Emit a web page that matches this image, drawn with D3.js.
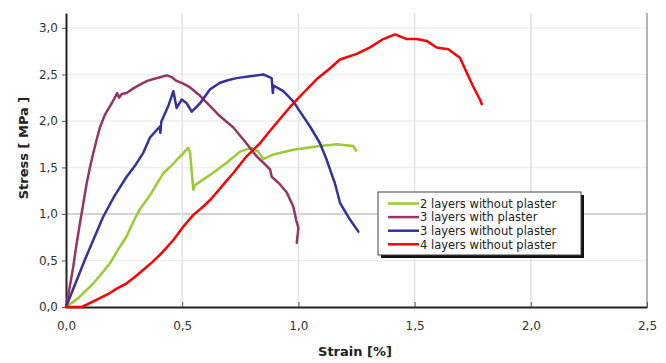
<!DOCTYPE html>
<html>
<head>
<meta charset="utf-8">
<script src="https://cdn.jsdelivr.net/npm/d3@7"></script>
<style>
  body { margin: 0; background: #fff; }
  text { font-family: "DejaVu Sans", sans-serif; }
</style>
</head>
<body>
<div id="chart"></div>
<script>
// Series: [strain %, stress MPa]
var twoLayers = [[0,0],[0.05,0.09],[0.118,0.255],[0.15,0.35],[0.189,0.47],[0.22,0.6],[0.261,0.76],
  [0.29,0.92],[0.318,1.05],[0.361,1.2],[0.39,1.32],[0.419,1.44],[0.45,1.51],[0.476,1.58],[0.5,1.64],
  [0.526,1.71],[0.534,1.66],[0.541,1.45],[0.548,1.26],[0.555,1.31],[0.62,1.42],[0.691,1.55],
  [0.749,1.67],[0.799,1.71],[0.827,1.67],[0.849,1.59],[0.892,1.64],[0.978,1.69],[1.093,1.73],
  [1.165,1.75],[1.236,1.73],[1.248,1.68]];
var threeWith = [[0,0],[0.015,0.2],[0.031,0.43],[0.045,0.67],[0.06,0.9],[0.075,1.12],[0.089,1.33],
  [0.103,1.5],[0.118,1.66],[0.132,1.8],[0.146,1.93],[0.168,2.07],[0.185,2.14],[0.197,2.19],
  [0.21,2.25],[0.22,2.3],[0.228,2.25],[0.24,2.29],[0.261,2.3],[0.29,2.35],[0.318,2.39],[0.35,2.43],
  [0.376,2.45],[0.405,2.47],[0.433,2.49],[0.455,2.47],[0.476,2.43],[0.505,2.4],[0.534,2.36],
  [0.577,2.27],[0.62,2.16],[0.663,2.05],[0.72,1.93],[0.763,1.8],[0.82,1.62],[0.85,1.55],
  [0.878,1.48],[0.885,1.4],[0.92,1.32],[0.95,1.23],[0.978,1.08],[0.99,0.94],[1.0,0.85],[0.993,0.69]];
var threeWithout = [[0,0],[0.08,0.5],[0.16,0.97],[0.21,1.2],[0.261,1.4],[0.3,1.53],[0.333,1.66],
  [0.361,1.82],[0.404,1.94],[0.406,1.87],[0.41,1.99],[0.44,2.16],[0.462,2.32],[0.476,2.14],
  [0.498,2.23],[0.519,2.19],[0.541,2.1],[0.577,2.19],[0.62,2.34],[0.663,2.41],[0.7,2.44],
  [0.734,2.46],[0.792,2.48],[0.849,2.5],[0.885,2.46],[0.89,2.3],[0.893,2.38],[0.935,2.32],
  [0.978,2.21],[1.007,2.1],[1.05,1.94],[1.093,1.76],[1.122,1.58],[1.14,1.45],[1.157,1.33],
  [1.179,1.12],[1.2,1.03],[1.222,0.94],[1.258,0.81]];
var fourLayers = [[0,0],[0.068,0],[0.118,0.06],[0.15,0.1],[0.189,0.15],[0.22,0.2],[0.261,0.255],
  [0.3,0.33],[0.333,0.4],[0.37,0.48],[0.404,0.56],[0.43,0.63],[0.462,0.72],[0.505,0.865],
  [0.548,0.99],[0.591,1.08],[0.62,1.15],[0.648,1.23],[0.685,1.34],[0.72,1.44],[0.777,1.62],
  [0.835,1.76],[0.87,1.87],[0.907,1.98],[0.964,2.15],[1.021,2.3],[1.079,2.45],[1.129,2.55],
  [1.179,2.66],[1.251,2.72],[1.308,2.79],[1.365,2.88],[1.416,2.93],[1.466,2.88],[1.509,2.88],
  [1.552,2.86],[1.595,2.79],[1.645,2.77],[1.695,2.68],[1.724,2.52],[1.752,2.37],[1.781,2.23],
  [1.789,2.18]];

var seriesNames = ["2 layers without plaster", "3 layers with plaster", "3 layers without plaster", "4 layers without plaster"];
var seriesColors = ["#99cc33", "#993366", "#333399", "#ff0000"];
var xTicks = [0, 0.5, 1.0, 1.5, 2.0, 2.5];
var yTicks = [0, 0.5, 1.0, 1.5, 2.0, 2.5, 3.0];

var svgWidth = 666;
var svgHeight = 363;
var margin = { top: 13, right: 19, bottom: 56, left: 66 };
var width = svgWidth - margin.left - margin.right;
var height = svgHeight - margin.top - margin.bottom;

var svg = d3.select("#chart").append("svg")
  .attr("width", svgWidth)
  .attr("height", svgHeight);

var chartGroup = svg.append("g")
  .attr("transform", `translate(${margin.left}, ${margin.top})`);

var xScale = d3.scaleLinear().domain([0, 2.5]).range([0, width]);
var yScale = d3.scaleLinear().domain([0, 3.16]).range([height, 0]);

var fmt = d => d.toFixed(1).replace(".", ",");

// gridlines
chartGroup.selectAll(".hgrid").data(yTicks.slice(1)).enter().append("line")
  .attr("x1", 0).attr("x2", width)
  .attr("y1", d => yScale(d)).attr("y2", d => yScale(d))
  .attr("stroke", d => d === 1.0 ? "#c4c4c4" : "#eeeeee")
  .attr("stroke-width", 1.5);
chartGroup.selectAll(".vgrid").data(xTicks.slice(1, -1)).enter().append("line")
  .attr("y1", 0).attr("y2", height)
  .attr("x1", d => xScale(d)).attr("x2", d => xScale(d))
  .attr("stroke", "#e2e2e2")
  .attr("stroke-width", 1.5);
// right border of plot
chartGroup.append("line")
  .attr("x1", width).attr("x2", width).attr("y1", 0).attr("y2", height)
  .attr("stroke", "#9a9a9a").attr("stroke-width", 1.5);

// axes
var bottomAxis = d3.axisBottom(xScale).tickValues(xTicks).tickFormat(fmt).tickSizeInner(-5).tickSizeOuter(0).tickPadding(14);
var leftAxis = d3.axisLeft(yScale).tickValues(yTicks).tickFormat(fmt).tickSizeInner(4).tickSizeOuter(0).tickPadding(4);

var xg = chartGroup.append("g").attr("transform", `translate(0, ${height})`).call(bottomAxis);
var yg = chartGroup.append("g").call(leftAxis);
[xg, yg].forEach(function (g) {
  g.select(".domain").attr("stroke", "#222").attr("stroke-width", 2);
  g.selectAll(".tick line").attr("stroke", "#555");
  g.selectAll("text").attr("font-size", 12).attr("fill", "#333")
    .style("font-family", "'DejaVu Sans', sans-serif");
});

// lines
var line = d3.line().x(d => xScale(d[0])).y(d => yScale(d[1]));
[twoLayers, threeWith, threeWithout, fourLayers].forEach(function (data, i) {
  chartGroup.append("path")
    .datum(data)
    .attr("d", line)
    .attr("fill", "none")
    .attr("stroke", seriesColors[i])
    .attr("stroke-width", 2.5)
    .attr("stroke-linejoin", "round")
    .attr("stroke-linecap", "round");
});

// axis titles
svg.append("text")
  .attr("transform", `translate(28, ${margin.top + height / 2 - 12}) rotate(-90)`)
  .attr("text-anchor", "middle")
  .attr("font-size", 13).attr("font-weight", "bold").attr("fill", "#222")
  .text("Stress [ MPa ]");
svg.append("text")
  .attr("x", 355).attr("y", 356)
  .attr("text-anchor", "middle")
  .attr("font-size", 13).attr("font-weight", "bold").attr("fill", "#222")
  .text("Strain [%]");

// legend
var legend = svg.append("g").attr("transform", "translate(378, 192)");
legend.append("rect").attr("x", 3).attr("y", 3).attr("width", 203).attr("height", 63).attr("fill", "#111");
legend.append("rect").attr("width", 203).attr("height", 63).attr("fill", "#fff")
  .attr("stroke", "#444").attr("stroke-width", 1);
seriesNames.forEach(function (name, i) {
  var y = 11.5 + i * 13.6;
  legend.append("line").attr("x1", 10).attr("x2", 41).attr("y1", y).attr("y2", y)
    .attr("stroke", seriesColors[i]).attr("stroke-width", 2.5);
  legend.append("text").attr("x", 42).attr("y", y + 4.2)
    .attr("font-size", 11.5).attr("fill", "#222").text(name);
});
</script>
</body>
</html>
